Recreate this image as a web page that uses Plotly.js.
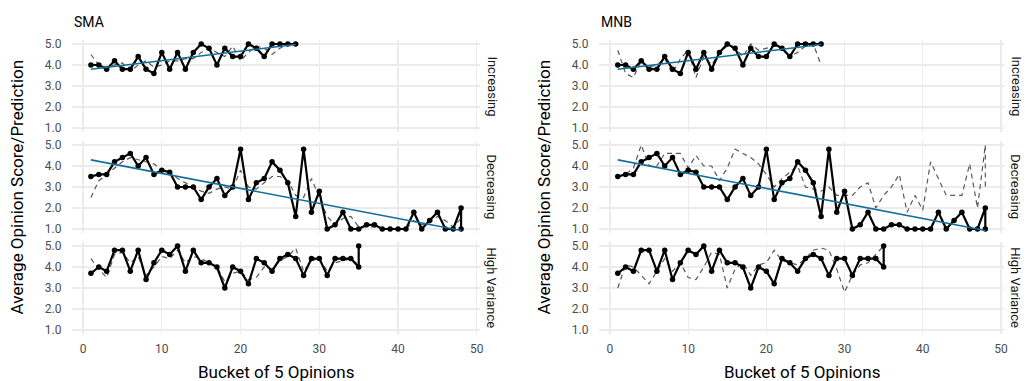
<!DOCTYPE html>
<html>
<head>
<meta charset="utf-8">
<script src="https://cdn.plot.ly/plotly-3.0.1.min.js"></script>
<style>
  html, body { margin: 0; padding: 0; background: #ffffff; }
  #chart { width: 1026px; height: 381px; }
</style>
</head>
<body>
<div id="chart"></div>
<script>
// Buckets of 5 opinions: actual average scores and the two predictors
const increasingBucket = [1,2,3,4,5,6,7,8,9,10,11,12,13,14,15,16,17,18,19,20,21,22,23,24,25,26,27];
const increasingActual = [4.0,4.0,3.8,4.2,3.8,3.8,4.4,3.8,3.6,4.6,3.8,4.6,3.8,4.6,5.0,4.8,4.0,4.8,4.4,4.4,5.0,4.8,4.4,5.0,5.0,5.0,5.0];
const increasingSMA    = [4.5,4.0,3.9,4.0,4.1,3.7,4.0,4.2,3.9,4.0,4.2,4.2,4.3,4.3,4.6,4.8,4.6,4.4,4.9,4.2,4.6,4.9,4.8,4.5,4.8,5.0,5.0];
const increasingMNB    = [4.7,3.6,3.4,4.2,3.9,4.0,4.3,3.6,4.3,4.7,3.4,4.4,4.0,4.6,4.9,4.8,4.4,5.0,4.7,4.8,4.9,4.8,4.4,4.6,4.9,5.0,4.0];

const decreasingBucket = [1,2,3,4,5,6,7,8,9,10,11,12,13,14,15,16,17,18,19,20,21,22,23,24,25,26,27,28,29,30,31,32,33,34,35,36,37,38,39,40,41,42,43,44,45,46,47,48,48];
const decreasingActual = [3.5,3.6,3.6,4.2,4.4,4.6,4.0,4.4,3.6,3.8,3.7,3.0,3.0,3.0,2.4,3.0,3.4,2.6,3.0,4.8,2.4,3.2,3.4,4.2,3.8,3.2,1.6,4.8,1.8,2.8,1.0,1.2,1.8,1.0,1.0,1.2,1.2,1.0,1.0,1.0,1.0,1.8,1.0,1.4,1.8,1.0,1.0,2.0,1.0];
const decreasingSMA    = [2.5,3.3,3.6,3.9,4.2,4.4,4.3,4.2,4.1,3.8,3.7,3.4,3.2,3.0,2.8,2.7,2.9,3.0,2.9,3.8,3.0,2.9,3.2,3.5,3.5,3.3,2.6,2.5,3.4,2.5,1.6,1.2,1.5,1.6,1.1,1.1,1.1,1.0,1.0,1.0,1.0,1.4,1.2,1.3,1.6,1.4,1.1,1.5,1.2];
const decreasingMNB    = [3.5,3.6,3.9,5.0,4.0,4.0,4.6,4.6,4.6,3.9,4.5,4.0,4.0,3.3,3.9,4.8,4.6,4.4,4.1,3.6,3.0,3.4,3.7,4.0,3.0,2.9,2.8,3.0,2.6,2.6,2.6,3.0,3.2,2.0,2.6,3.0,3.6,1.8,2.6,1.9,4.2,3.4,2.6,2.6,2.6,4.1,2.0,5.0,3.0];

const varianceBucket = [1,2,3,4,5,6,7,8,9,10,11,12,13,14,15,16,17,18,19,20,21,22,23,24,25,26,27,28,29,30,31,32,33,34,35,35];
const varianceActual = [3.7,4.0,3.8,4.8,4.8,3.8,4.8,3.4,4.2,4.8,4.6,5.0,3.8,4.8,4.2,4.2,4.0,3.0,4.0,3.8,3.2,4.4,4.2,3.8,4.4,4.6,4.4,3.6,4.4,4.4,3.6,4.4,4.4,4.4,4.0,5.0];
const varianceSMA      = [4.4,3.9,3.5,4.6,4.7,4.2,4.5,3.6,4.0,4.5,4.4,4.8,4.2,4.5,4.4,4.2,4.0,3.3,3.7,3.8,3.4,3.5,4.0,3.9,4.3,4.5,4.9,3.8,4.3,4.4,3.8,4.2,4.3,4.4,4.1,4.6];
const varianceMNB      = [3.0,4.1,4.0,3.6,3.2,3.8,4.4,3.8,4.2,3.5,3.4,4.0,4.7,4.6,3.0,3.9,4.2,3.6,4.1,4.2,4.8,4.3,4.2,4.1,4.4,4.8,4.9,4.8,3.9,2.8,3.6,4.1,4.2,4.6,5.0,4.0];

const facetNames = ['Increasing', 'Decreasing', 'High Variance'];
const modelNames = ['SMA', 'MNB'];
const xTicks = [0, 10, 20, 30, 40, 50];
const yTicks = [1, 2, 3, 4, 5];

const FONT = 'Roboto, "Noto Sans", sans-serif';
const W = 1026, H = 381;

// panel geometry in pixels
const colX = [[72.4, 479.6], [599.4, 1003.7]];
const rowY = [[39.8, 132.2], [140.8, 233.2], [241.8, 334.2]];

function lsq(xs, ys) {
  const n = xs.length;
  const mx = xs.reduce((a, b) => a + b, 0) / n;
  const my = ys.reduce((a, b) => a + b, 0) / n;
  let sxy = 0, sxx = 0;
  for (let i = 0; i < n; i++) { sxy += (xs[i] - mx) * (ys[i] - my); sxx += (xs[i] - mx) ** 2; }
  const b = sxy / sxx;
  const x0 = Math.min(...xs), x1 = Math.max(...xs);
  return { x: [x0, x1], y: [my + b * (x0 - mx), my + b * (x1 - mx)] };
}

const facets = [
  { x: increasingBucket, actual: increasingActual, pred: [increasingSMA, increasingMNB], trend: true },
  { x: decreasingBucket, actual: decreasingActual, pred: [decreasingSMA, decreasingMNB], trend: true },
  { x: varianceBucket,   actual: varianceActual,   pred: [varianceSMA, varianceMNB],     trend: false }
];

const traces = [];
const layout = {
  width: W, height: H,
  margin: { l: 0, r: 0, t: 0, b: 0 },
  paper_bgcolor: '#ffffff', plot_bgcolor: '#ffffff',
  showlegend: false,
  font: { family: FONT, color: '#000000' },
  annotations: []
};

modelNames.forEach((model, c) => {
  const xName = c === 0 ? 'x' : 'x2';
  const xKey = c === 0 ? 'xaxis' : 'xaxis2';
  const bottomY = 'y' + (c * 3 + 3);
  layout[xKey] = {
    domain: [colX[c][0] / W, colX[c][1] / W],
    range: [-1.35, 50.35],
    anchor: bottomY,
    tickvals: xTicks,
    ticks: '', showline: false, zeroline: false,
    showgrid: true, gridcolor: '#ebebeb', gridwidth: 1.3,
    ticklabelstandoff: 6,
    tickfont: { family: FONT, size: 12, color: '#4d4d4d' }
  };

  facets.forEach((f, r) => {
    const idx = c * 3 + r + 1;
    const yName = idx === 1 ? 'y' : 'y' + idx;
    const yKey = idx === 1 ? 'yaxis' : 'yaxis' + idx;
    layout[yKey] = {
      domain: [1 - rowY[r][1] / H, 1 - rowY[r][0] / H],
      range: [0.8, 5.2],
      anchor: xName,
      tickvals: yTicks, tickformat: '.1f',
      ticks: '', showline: false, zeroline: false,
      showgrid: true, gridcolor: '#ebebeb', gridwidth: 1.3,
      ticklabelstandoff: 10,
      tickfont: { family: FONT, size: 12, color: '#4d4d4d' }
    };

    traces.push({
      type: 'scatter', mode: 'lines', x: f.x, y: f.pred[c],
      xaxis: xName, yaxis: yName,
      line: { color: '#595959', width: 1.2, dash: '5px,4px' },
      hoverinfo: 'skip'
    });
    traces.push({
      type: 'scatter', mode: 'lines+markers', x: f.x, y: f.actual,
      xaxis: xName, yaxis: yName,
      line: { color: '#000000', width: 2.2 },
      marker: { color: '#000000', size: 5.5 }
    });
    if (f.trend) {
      const t = lsq(f.x, f.actual);
      traces.push({
        type: 'scatter', mode: 'lines', x: t.x, y: t.y,
        xaxis: xName, yaxis: yName,
        line: { color: '#136f99', width: 1.6 }
      });
    }

    // facet strip label on the right
    layout.annotations.push({
      xref: 'paper', yref: 'paper',
      x: (colX[c][1] + 12) / W, y: 1 - (rowY[r][0] + rowY[r][1]) / 2 / H,
      text: facetNames[r], textangle: 90, showarrow: false,
      xanchor: 'center', yanchor: 'middle',
      font: { family: FONT, size: 13, color: '#1a1a1a' }
    });
  });

  // panel title
  layout.annotations.push({
    xref: 'paper', yref: 'paper',
    x: colX[c][0] / W, y: 1 - 22 / H,
    text: model, showarrow: false, xanchor: 'left', yanchor: 'middle',
    font: { family: FONT, size: 14, color: '#000000' }
  });
  // axis titles
  layout.annotations.push({
    xref: 'paper', yref: 'paper',
    x: (colX[c][0] + colX[c][1]) / 2 / W, y: 1 - 372 / H,
    text: 'Bucket of 5 Opinions', showarrow: false, xanchor: 'center', yanchor: 'middle',
    font: { family: FONT, size: 17, color: '#000000' }
  });
  layout.annotations.push({
    xref: 'paper', yref: 'paper',
    x: (colX[c][0] - 55) / W, y: 1 - 187 / H,
    text: 'Average Opinion Score/Prediction', textangle: -90, showarrow: false,
    xanchor: 'center', yanchor: 'middle',
    font: { family: FONT, size: 17, color: '#000000' }
  });
});

Plotly.newPlot('chart', traces, layout, { displayModeBar: false, staticPlot: true });
</script>
</body>
</html>
